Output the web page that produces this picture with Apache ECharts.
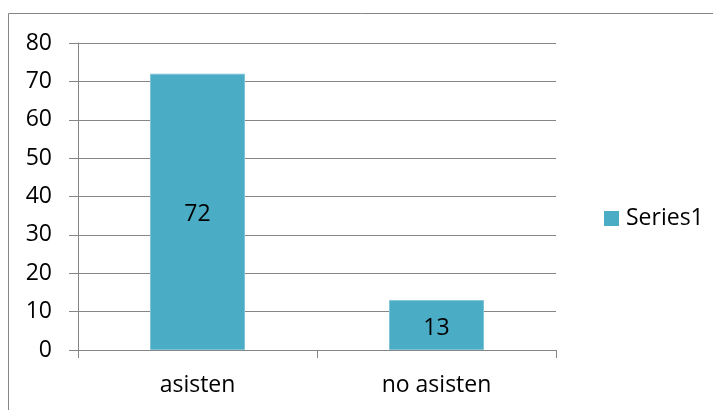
<!DOCTYPE html>
<html>
<head>
<meta charset="utf-8">
<script src="https://cdn.jsdelivr.net/npm/echarts@6/dist/echarts.min.js"></script>
<style>
html,body{margin:0;padding:0;background:#fff;}
#main{width:713px;height:410px;}
</style>
</head>
<body>
<div id="main"></div>
<script>
var categories = ['asisten', 'no asisten'];
var seriesName = 'Series1';
var values = [72, 13];
var yMin = 0, yMax = 80, yStep = 10;

var FONT = 'Open Sans';
var FS = 23;
var chart = echarts.init(document.getElementById('main'), null, {renderer: 'canvas'});
chart.setOption({
  animation: false,
  backgroundColor: '#ffffff',
  textStyle: {fontFamily: FONT},
  graphic: [{
    type: 'rect',
    shape: {x: 8.5, y: 13.5, width: 800, height: 500},
    style: {fill: 'none', stroke: '#868686', lineWidth: 1},
    silent: true
  }],
  grid: {left: 78, right: 157, top: 43, bottom: 60, containLabel: false},
  legend: {
    data: [seriesName],
    left: 599, top: 202,
    icon: 'rect', itemWidth: 15, itemHeight: 15, itemGap: 6,
    itemStyle: {borderWidth: 0},
    textStyle: {fontFamily: FONT, fontSize: FS, color: '#000', padding: [0, 0, 0, 2]}
  },
  xAxis: {
    type: 'category',
    data: categories,
    axisLine: {lineStyle: {color: '#868686', width: 1}},
    axisTick: {show: true, length: 8, lineStyle: {color: '#868686'}},
    axisLabel: {fontFamily: FONT, fontSize: FS, color: '#000', margin: 24}
  },
  yAxis: {
    type: 'value',
    min: yMin, max: yMax, interval: yStep,
    axisLine: {show: true, lineStyle: {color: '#868686', width: 1}},
    axisTick: {show: true, length: 9, inside: false, lineStyle: {color: '#868686'}},
    splitLine: {show: true, lineStyle: {color: '#868686', width: 1}},
    axisLabel: {fontFamily: FONT, fontSize: FS, color: '#000', margin: 26}
  },
  series: [{
    name: seriesName,
    type: 'bar',
    data: values,
    barWidth: 95,
    itemStyle: {color: '#4BACC6', borderColor: '#7fc4d6', borderWidth: 1},
    label: {show: true, position: 'inside', offset: [0, 3], fontFamily: FONT, fontSize: FS, color: '#000'}
  }]
});
</script>
</body>
</html>
